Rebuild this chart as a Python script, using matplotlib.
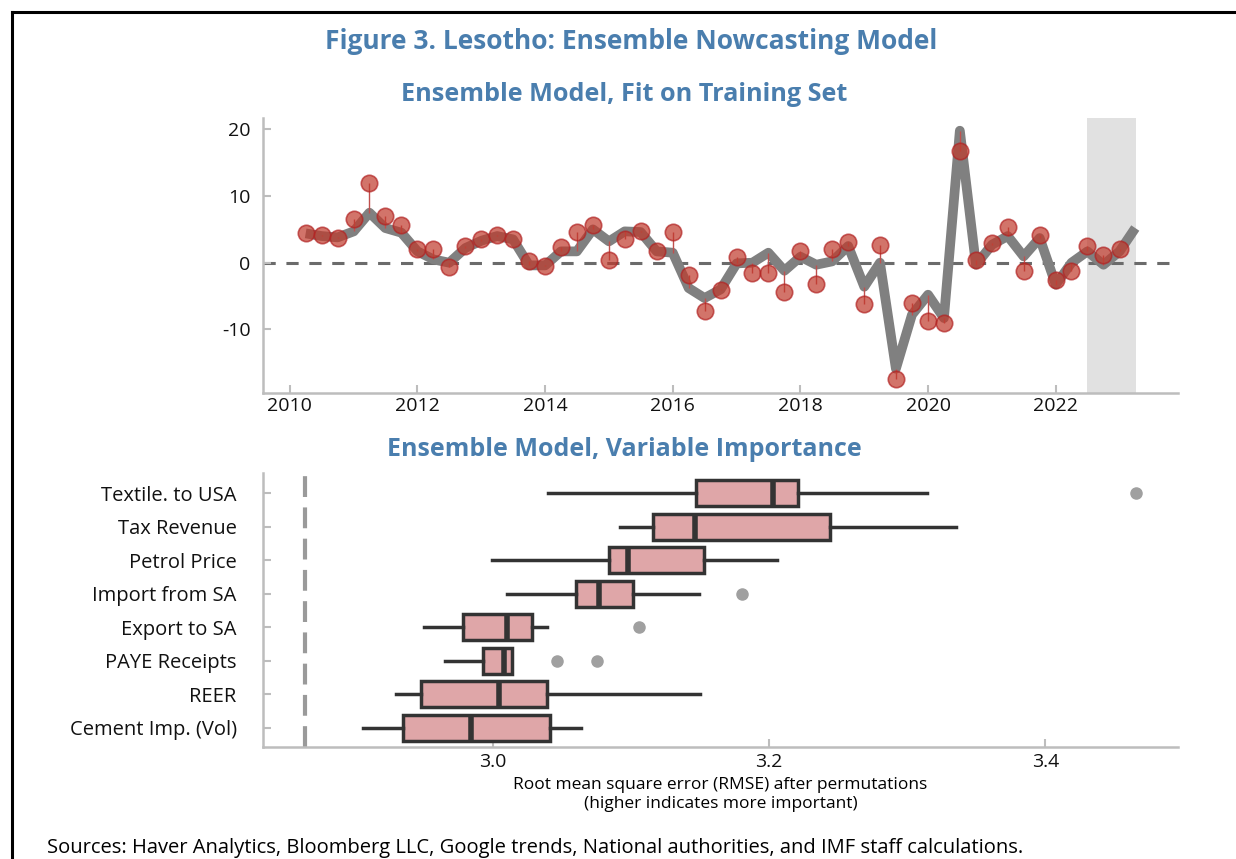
import numpy as np
import pandas as pd
import matplotlib
matplotlib.use("Agg")
import matplotlib.pyplot as plt
import matplotlib.dates as mdates
from matplotlib.lines import Line2D

plt.rcParams["font.family"] = ["Open Sans", "DejaVu Sans"]
plt.rcParams["axes.unicode_minus"] = False

# ---- top panel data (quarterly growth, actual vs ensemble fit) ----
quarters = pd.date_range("2010-04-01", periods=53, freq="QS")
actual = [4.5, 4.1, 3.7, 6.5, 11.9, 7.0, 5.7, 2.0, 2.1, -0.65, 2.5, 3.5, 4.1, 3.6, 0.2, -0.45,
          2.4, 4.6, 5.7, 0.35, 3.6, 4.7, 1.8, 4.6, -1.9, -7.2, -4.1, 0.8, -1.6, -1.6, -4.4, 1.7,
          -3.2, 2.1, 3.1, -6.2, 2.7, -17.5, -6.1, -8.7, -9.1, 16.8, 0.35, 2.9, 5.4, -1.3, 4.2,
          -2.6, -1.2, 2.5, 1.1, 2.0]
fitted = [4.4, 4.0, 3.8, 4.7, 7.5, 5.2, 4.5, 1.7, 0.5, 0.0, 2.2, 3.3, 4.0, 3.5, -0.4, -0.4,
          1.7, 1.7, 5.0, 3.2, 4.7, 4.6, 1.7, 1.5, -3.8, -5.3, -4.0, -0.1, 0.0, 1.5, -1.2, 0.9,
          -0.3, 0.2, 2.5, -3.6, 0.0, -15.9, -7.8, -4.8, -8.3, 19.8, -0.3, 2.7, 4.0, 0.95, 3.7,
          -3.3, 0.0, 1.7, -0.3, 1.7, 5.2]
nowcast_start = pd.Timestamp("2022-07-01")
nowcast_end = pd.Timestamp("2023-04-08")
y_ticks = [-10, 0, 10, 20]

# ---- bottom panel data (permutation RMSE box stats) ----
variables = ["Textile. to USA", "Tax Revenue", "Petrol Price", "Import from SA",
             "Export to SA", "PAYE Receipts", "REER", "Cement Imp. (Vol)"]
whislo = [3.040, 3.092, 2.999, 3.010, 2.950, 2.965, 2.930, 2.906]
q1 = [3.147, 3.116, 3.084, 3.060, 2.978, 2.993, 2.948, 2.935]
med = [3.203, 3.146, 3.098, 3.077, 3.010, 3.008, 3.004, 2.984]
q3 = [3.221, 3.244, 3.153, 3.101, 3.028, 3.014, 3.039, 3.041]
whishi = [3.314, 3.335, 3.206, 3.149, 3.039, 3.014, 3.150, 3.064]
fliers = [[3.466], [], [], [3.180], [3.106], [3.046, 3.075], [], []]
baseline_rmse = 2.864
x_ticks = [3.0, 3.2, 3.4]

blue = "#4a7eae"
spine_c = "#bdbdbd"

fig = plt.figure(figsize=(12.36, 8.59), dpi=100)

# frame lines (top and left only)
fig.add_artist(Line2D([0.0097, 1.0], [0.986, 0.986], color="black", lw=2.2, transform=fig.transFigure))
fig.add_artist(Line2D([0.0097, 0.0097], [0.0, 0.986], color="black", lw=2.2, transform=fig.transFigure))

fig.text(0.5105, 0.952, "Figure 3. Lesotho: Ensemble Nowcasting Model", ha="center", va="center",
         color=blue, fontsize=19, fontweight="bold")
fig.text(0.505, 0.890, "Ensemble Model, Fit on Training Set", ha="center", va="center",
         color=blue, fontsize=18.2, fontweight="bold")
fig.text(0.505, 0.477, "Ensemble Model, Variable Importance", ha="center", va="center",
         color=blue, fontsize=18, fontweight="bold")
fig.text(0.038, 0.013, "Sources: Haver Analytics, Bloomberg LLC, Google trends, National authorities, "
         "and IMF staff calculations.", ha="left", va="center", fontsize=14.5)


def style(ax):
    for s in ["top", "right"]:
        ax.spines[s].set_visible(False)
    for s in ["left", "bottom"]:
        ax.spines[s].set_color(spine_c)
        ax.spines[s].set_linewidth(1.8)
    ax.tick_params(direction="in", length=6, width=1.5, color=spine_c, labelsize=14,
                   labelcolor="#111111")


# top panel
ax1 = fig.add_axes([0.2128, 0.5428, 0.7402, 0.3198])
style(ax1)
ax1.axvspan(nowcast_start, nowcast_end, color="#e1e1e1", lw=0, zorder=0)
ax1.axhline(0, color="#6b6b6b", lw=2.2, ls=(0, (4, 3.5)), zorder=1)
ax1.plot(quarters, fitted, color="#808080", lw=7, solid_joinstyle="round",
         solid_capstyle="butt", zorder=2)
ax1.vlines(quarters[:len(actual)], fitted[:len(actual)], actual, color="#c0504d", lw=1, zorder=3)
ax1.scatter(quarters[:len(actual)], actual, s=140, color="#c0392b", alpha=0.7,
            edgecolor="#b22222", linewidth=1.2, zorder=4)
ax1.set_ylim(-19.5, 21.7)
ax1.set_yticks(y_ticks)
ax1.set_yticklabels([str(t) for t in y_ticks])
ax1.set_xlim(pd.Timestamp("2009-07-31"), pd.Timestamp("2023-12-01"))
ax1.xaxis.set_major_locator(mdates.YearLocator(2))
ax1.xaxis.set_major_formatter(mdates.DateFormatter("%Y"))
ax1.tick_params(axis="x", pad=3)
ax1.tick_params(axis="y", pad=9)

# bottom panel
ax2 = fig.add_axes([0.2128, 0.1304, 0.7402, 0.3190])
style(ax2)
stats = []
for i, name in enumerate(variables):
    stats.append(dict(label=name, whislo=whislo[i], q1=q1[i], med=med[i], q3=q3[i],
                      whishi=whishi[i], fliers=fliers[i]))
ax2.bxp(stats, positions=range(len(variables)), vert=False, widths=0.78, patch_artist=True,
        showcaps=False,
        boxprops=dict(facecolor="#dfa6a8", edgecolor="#333333", linewidth=2.5),
        medianprops=dict(color="#333333", linewidth=4, solid_capstyle="butt"),
        whiskerprops=dict(color="#333333", linewidth=2.5),
        flierprops=dict(marker="o", markerfacecolor="#a0a0a0", markeredgecolor="#a0a0a0",
                        markersize=8))
ax2.axvline(baseline_rmse, color="#9a9a9a", lw=3, ls=(0, (5, 2.5)), zorder=0)
ax2.set_ylim(len(variables) - 0.43, -0.6)
ax2.set_xlim(2.8334, 3.496)
ax2.set_xticks(x_ticks)
ax2.set_xticklabels([f"{t:.1f}" for t in x_ticks])
ax2.tick_params(axis="x", pad=4)
ax2.tick_params(axis="y", labelsize=14.5, pad=19)
ax2.set_xlabel("Root mean square error (RMSE) after permutations\n(higher indicates more important)",
               fontsize=12.5, linespacing=1.2, labelpad=5)

fig.savefig("out.png", dpi=100)
